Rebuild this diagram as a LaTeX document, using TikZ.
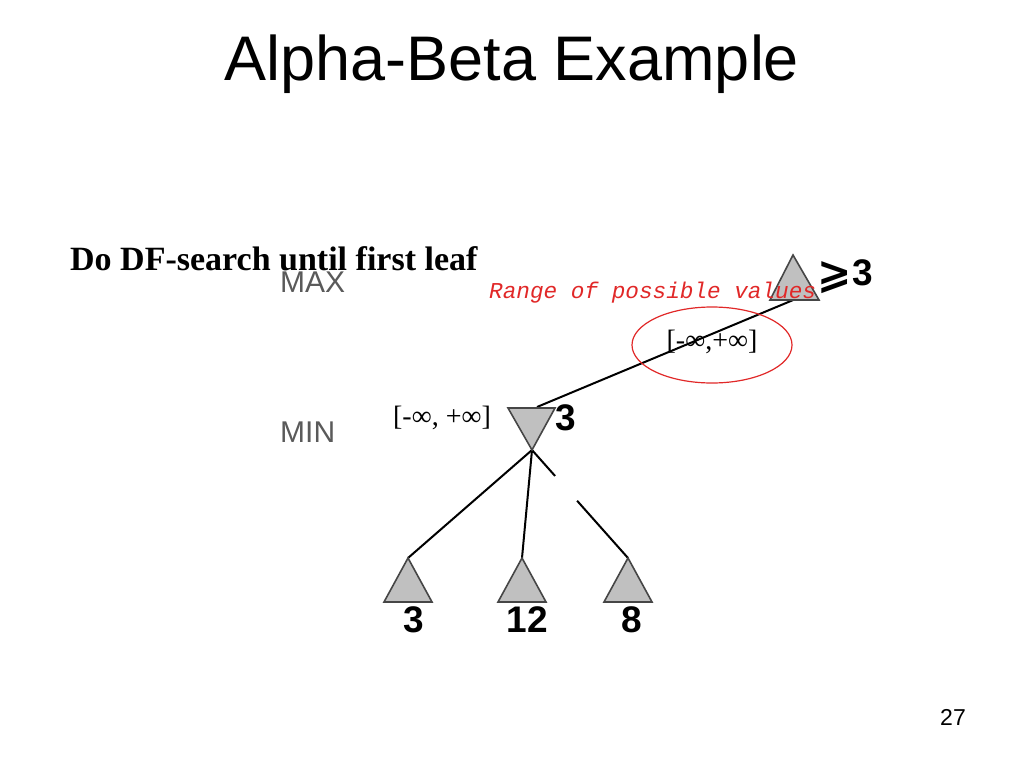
\documentclass[tikz,border=0pt]{standalone}
\usepackage{fontspec}
\setmainfont{Liberation Serif}
\newfontfamily\arial{Liberation Sans}
\newfontfamily\cour{Liberation Mono}
\newfontfamily\dejavu{DejaVu Sans}
\usetikzlibrary{calc}
\definecolor{trifill}{RGB}{192,192,192}
\definecolor{triline}{RGB}{70,70,70}
\definecolor{labgray}{RGB}{90,90,90}
\definecolor{rangered}{RGB}{225,40,40}
\tikzset{
  edge/.style={draw=black,line width=2pt},
  tri/.style={fill=trifill,draw=triline,line width=1.6pt,line join=miter},
  leaflab/.style={inner sep=0pt,font=\arial\bfseries\fontsize{37}{40}\selectfont},
  plylab/.style={inner sep=0pt,anchor=base west,text=labgray,font=\arial\fontsize{30}{33}\selectfont},
  interval/.style={inner sep=0pt,font=\fontsize{28}{30}\selectfont}
}
\begin{document}
\begin{tikzpicture}[x=1pt,y=-1pt]
\useasboundingbox[fill=white] (0,0) rectangle (1024,768);
% title
\node[inner sep=0pt,anchor=base,font=\arial\fontsize{63}{70}\selectfont] (title) at (512,80) {Alpha-Beta Example};
\node[inner sep=0pt,anchor=base west,font=\bfseries\fontsize{34}{36}\selectfont] (sub) at (70,270) {Do DF-search until first leaf};
\node[plylab] (maxlab) at (280,292) {MAX};
\node[plylab] (minlab) at (280,442) {MIN};
% coordinates of tree
\coordinate (maxapex) at (793,255);
\coordinate (maxbl) at (770,300);
\coordinate (maxbr) at (819,300);
\coordinate (maxbot) at (798,298);
\coordinate (mintl) at (508,408);
\coordinate (mintr) at (555,408);
\coordinate (mintop) at (537,407);
\coordinate (minapex) at (532,450);
\coordinate (la) at (408,558);
\coordinate (ma) at (522,558);
\coordinate (ra) at (628,558);
% edges
\draw[edge] (maxbot) -- (mintop);
\draw[edge] (minapex) -- (la);
\draw[edge] (minapex) -- (ma);
\draw[edge] (minapex) -- ($(minapex)!0.24!(ra)$);
\draw[edge] ($(minapex)!0.47!(ra)$) -- (ra);
% triangles
\draw[tri] (maxapex) -- (maxbl) -- (maxbr) -- cycle;
\draw[tri] (mintl) -- (mintr) -- (minapex) -- cycle;
\draw[tri] (la) -- ++(-24,44) -- ++(48,0) -- cycle;
\draw[tri] (ma) -- ++(-24,44) -- ++(48,0) -- cycle;
\draw[tri] (ra) -- ++(-24,44) -- ++(48,0) -- cycle;
% values
\node[leaflab,anchor=base] (v1) at (414,632) {3};
\node[leaflab,anchor=base] (v2) at (527,632) {12};
\node[leaflab,anchor=base] (v3) at (632,632) {8};
\node[leaflab,anchor=base west] (minval) at (555,430) {3};
\node[leaflab,anchor=base west] (maxval) at (852,285) {3};
\node[inner sep=0pt,font=\dejavu\bfseries\fontsize{41}{41}\selectfont] (geq) at (835,278) {⩾};
% range text and ellipse
\node[inner sep=0pt,anchor=base west,text=rangered,font=\cour\itshape\fontsize{22.7}{26}\selectfont] (range) at (489,298) {Range of possible values};
\node[interval] (int1) at (712,342) {[-∞,+∞]};
\draw[rangered,line width=1.2pt] (712,345) ellipse [x radius=80, y radius=38];
\node[interval] (int2) at (442,418) {[-∞, +∞]};
% page number
\node[inner sep=0pt,anchor=base west,font=\arial\fontsize{23}{26}\selectfont] (page) at (940,725) {27};
\end{tikzpicture}
\end{document}
